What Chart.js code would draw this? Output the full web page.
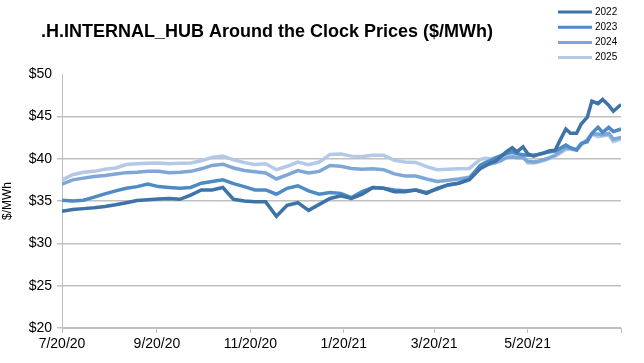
<!DOCTYPE html>
<html>
<head>
<meta charset="utf-8">
<script src="https://cdn.jsdelivr.net/npm/chart.js@4.4.1/dist/chart.umd.min.js"></script>
<style>
  html, body { margin: 0; padding: 0; background: #fff; }
  #wrap { width: 644px; height: 363px; }
</style>
</head>
<body>
<div id="wrap"><canvas id="myChart" width="644" height="363"></canvas></div>
<script>
// data
var dates = [
  '2020-07-20','2020-07-27','2020-08-03','2020-08-10','2020-08-17','2020-08-24','2020-08-31',
  '2020-09-07','2020-09-14','2020-09-21','2020-09-28','2020-10-05','2020-10-12','2020-10-19',
  '2020-10-26','2020-11-02','2020-11-09','2020-11-16','2020-11-23','2020-11-30','2020-12-07',
  '2020-12-14','2020-12-21','2020-12-28','2021-01-04','2021-01-11','2021-01-18','2021-01-25',
  '2021-02-01','2021-02-08','2021-02-15','2021-02-22','2021-03-01','2021-03-08','2021-03-15',
  '2021-03-22','2021-03-29','2021-04-05','2021-04-12','2021-04-19','2021-04-22','2021-04-26',
  '2021-04-29','2021-05-03','2021-05-06','2021-05-10','2021-05-13','2021-05-17','2021-05-20',
  '2021-05-24','2021-05-27','2021-05-31','2021-06-03','2021-06-07','2021-06-10','2021-06-14',
  '2021-06-17','2021-06-21','2021-06-24','2021-06-28','2021-07-01','2021-07-05','2021-07-08',
  '2021-07-12','2021-07-15','2021-07-20'
];
var seriesNames = ['2022', '2023', '2024', '2025'];
var cal2022 = [
  33.8, 34.0, 34.1, 34.2, 34.35, 34.55, 34.8, 35.05, 35.15, 35.25, 35.3, 35.2, 35.7, 36.3,
  36.3, 36.6, 35.2, 35.0, 34.9, 34.9, 33.2, 34.5, 34.8, 33.9, 34.6, 35.3, 35.6, 35.3,
  35.8, 36.6, 36.5, 36.1, 36.1, 36.3, 35.9, 36.5, 36.9, 37.1, 37.5, 38.8, 39.1, 39.5,
  39.7, 40.3, 40.8, 41.3, 40.8, 41.4, 40.6, 40.3, 40.5, 40.7, 40.9, 41.0, 42.1, 43.5,
  43.0, 43.0, 44.1, 44.9, 46.8, 46.5, 47.0, 46.3, 45.6, 46.4
];
var cal2023 = [
  35.1, 35.0, 35.1, 35.45, 35.85, 36.2, 36.5, 36.7, 37.0, 36.7, 36.6, 36.5, 36.6, 37.1,
  37.3, 37.5, 37.05, 36.7, 36.3, 36.3, 35.8, 36.5, 36.8, 36.2, 35.8, 36.0, 35.9, 35.4,
  36.1, 36.6, 36.5, 36.3, 36.2, 36.3, 36.0, 36.4, 36.9, 37.1, 37.6, 39.2, 39.5, 39.8,
  40.1, 40.4, 40.6, 40.8, 40.6, 40.45, 40.4, 40.4, 40.5, 40.65, 40.8, 40.9, 41.2, 41.6,
  41.3, 41.0, 41.8, 42.0, 43.0, 43.7, 43.1, 43.7, 43.2, 43.5
];
var cal2024 = [
  37.0, 37.5, 37.7, 37.9, 38.0, 38.2, 38.35, 38.4, 38.5, 38.5, 38.35, 38.4, 38.5, 38.8,
  39.2, 39.35, 38.9, 38.6, 38.45, 38.3, 37.6, 38.1, 38.6, 38.3, 38.5, 39.2, 39.1, 38.85,
  38.75, 38.8, 38.7, 38.2, 37.95, 37.95, 37.6, 37.3, 37.45, 37.6, 37.8, 39.1, 39.3, 39.4,
  39.5, 39.8, 40.1, 40.2, 40.1, 40.1, 39.7, 39.6, 39.7, 39.9, 40.1, 40.4, 40.8, 41.3,
  41.2, 41.1, 41.7, 42.2, 42.9, 42.9, 42.8, 43.0, 42.3, 42.5
];
var cal2025 = [
  37.5, 38.1, 38.4, 38.5, 38.75, 38.9, 39.3, 39.4, 39.45, 39.5, 39.4, 39.45, 39.5, 39.75,
  40.15, 40.3, 39.85, 39.55, 39.3, 39.4, 38.7, 39.1, 39.6, 39.3, 39.6, 40.5, 40.55, 40.3,
  40.25, 40.4, 40.4, 39.8, 39.6, 39.55, 39.05, 38.7, 38.75, 38.8, 38.85, 39.9, 40.05, 40.0,
  40.05, 40.2, 40.5, 40.5, 40.4, 40.35, 39.5, 39.5, 39.6, 39.8, 40.0, 40.3, 40.6, 41.1,
  41.1, 41.0, 41.6, 42.3, 42.9, 42.6, 42.7, 42.8, 42.0, 42.3
];
var tickDates = ['2020-07-20','2020-09-20','2020-11-20','2021-01-20','2021-03-20','2021-05-20','2021-07-20'];
var tickLabels = ['7/20/20', '9/20/20', '11/20/20', '1/20/21', '3/20/21', '5/20/21', ''];
var colors = ['#3e73a7', '#4e8bc5', '#7ea7d8', '#b3c9e7'];

var startDay = Date.UTC(2020, 6, 20);
function dayIndex(s) {
  var p = s.split('-');
  return Math.round((Date.UTC(+p[0], +p[1] - 1, +p[2]) - startDay) / 86400000);
}
function points(values) {
  return values.map(function(v, i) { return {x: dayIndex(dates[i]), y: v}; });
}

var allValues = [cal2022, cal2023, cal2024, cal2025];
var datasets = [];
for (var i = 0; i < seriesNames.length; i++) {
  datasets.push({
    label: seriesNames[i],
    data: points(allValues[i]),
    borderColor: colors[i],
    backgroundColor: colors[i],
    borderWidth: 3.5,
    pointRadius: 0,
    tension: 0,
    order: i
  });
}

// title + small legend in the top right corner
var decorPlugin = {
  id: 'decor',
  afterDraw: function(chart) {
    var c = chart.ctx;
    c.save();
    c.fillStyle = '#000';
    c.font = 'bold 18px "Liberation Sans", Arial, sans-serif';
    c.textBaseline = 'middle';
    c.textAlign = 'left';
    c.fillText('.H.INTERNAL_HUB Around the Clock Prices ($/MWh)', 41, 32);
    c.font = '10px "Liberation Sans", Arial, sans-serif';
    chart.data.datasets.forEach(function(ds, k) {
      var y = 12 + k * 15.2;
      c.strokeStyle = ds.borderColor;
      c.lineWidth = 3;
      c.beginPath();
      c.moveTo(558, y);
      c.lineTo(592, y);
      c.stroke();
      c.fillText(ds.label, 595, y);
    });
    c.restore();
  }
};

var ctx = document.getElementById('myChart').getContext('2d');
var chart = new Chart(ctx, {
  type: 'line',
  data: { datasets: datasets },
  options: {
    responsive: false,
    animation: false,
    layout: { padding: { top: 74, right: 23, left: 0, bottom: 0 } },
    plugins: { legend: { display: false }, tooltip: { enabled: false } },
    scales: {
      x: {
        type: 'linear',
        min: 0,
        max: 365,
        afterBuildTicks: function(scale) {
          scale.ticks = tickDates.map(function(d) { return {value: dayIndex(d)}; });
        },
        afterFit: function(scale) { scale.height = 35; },
        ticks: {
          autoSkip: false,
          maxRotation: 0,
          padding: 3,
          color: '#000',
          font: { family: '"Liberation Sans Narrow", "Liberation Sans", Arial', size: 14 },
          callback: function(v, idx) { return tickLabels[idx]; }
        },
        grid: { drawOnChartArea: false, drawTicks: true, tickLength: 5, color: '#bfbfbf', lineWidth: 1 },
        border: { color: '#bfbfbf', width: 1 }
      },
      y: {
        min: 20,
        max: 50,
        afterFit: function(scale) { scale.width = 62; },
        ticks: {
          stepSize: 5,
          padding: 5,
          color: '#000',
          font: { family: '"Liberation Sans", Arial', size: 14 },
          callback: function(v) { return '$' + v; }
        },
        grid: {
          color: function(c) { return c.tick && c.tick.value === 50 ? 'rgba(0,0,0,0)' : '#c0c0c0'; },
          lineWidth: 1.5,
          tickLength: 5
        },
        border: { color: '#bfbfbf', width: 1 },
        title: {
          display: true,
          text: '$/MWh',
          color: '#000',
          padding: 0,
          font: { family: '"Liberation Sans", Arial', size: 12 }
        }
      }
    }
  },
  plugins: [decorPlugin]
});
</script>
</body>
</html>
